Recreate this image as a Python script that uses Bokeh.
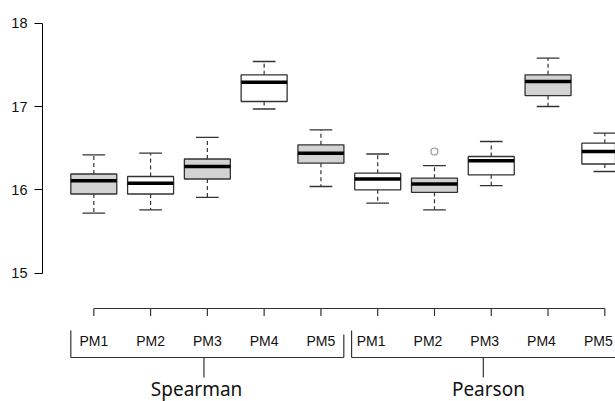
import numpy as np
from bokeh.plotting import figure
from bokeh.models import Range1d, FixedTicker, ColumnDataSource
from bokeh.core.properties import value
from bokeh.embed import file_html
from bokeh.resources import INLINE

# ---- data ----
groups = ["Spearman", "Pearson"]
methods = ["PM1", "PM2", "PM3", "PM4", "PM5"]
positions = [1, 2, 3, 4, 5, 6, 7, 8, 9, 10]
tick_labels = methods + methods
lower_whisker = [15.72, 15.76, 15.91, 16.97, 16.04, 15.84, 15.76, 16.05, 17.00, 16.22]
q1 = [15.95, 15.95, 16.13, 17.06, 16.32, 16.00, 15.97, 16.18, 17.13, 16.31]
median = [16.11, 16.08, 16.28, 17.29, 16.44, 16.13, 16.07, 16.35, 17.30, 16.46]
q3 = [16.19, 16.16, 16.37, 17.38, 16.54, 16.20, 16.14, 16.40, 17.38, 16.56]
upper_whisker = [16.42, 16.44, 16.63, 17.54, 16.72, 16.43, 16.29, 16.58, 17.58, 16.68]
outlier_x = [7]
outlier_y = [16.46]
y_ticks = [15, 16, 17, 18]

# ---- layout ----
W, H = 615, 401
Y0, Y1 = 13.460, 18.272
X0, X1 = 0.0965, 10.188
BOXW = 0.81
CAPW = 0.40
LABEL_NUDGE = [0.0] * 5 + [-0.115] * 5


def py(pix):
    """figure pixel row -> data y"""
    return Y1 - pix * (Y1 - Y0) / H


fills = ["#D3D3D3" if i % 2 == 0 else "#FFFFFF" for i in range(len(positions))]

p = figure(width=W, height=H, output_backend="svg", toolbar_location=None,
           x_range=Range1d(X0, X1), y_range=Range1d(Y0, Y1),
           min_border_left=42, min_border_right=0, min_border_top=0, min_border_bottom=0)
p.xaxis.visible = False
p.grid.visible = False
p.outline_line_color = None
p.background_fill_color = "white"
p.border_fill_color = "white"

ya = p.yaxis[0]
ya.ticker = FixedTicker(ticks=y_ticks)
ya.bounds = (15, 18)
ya.major_tick_out = 8
ya.major_tick_in = 0
ya.minor_tick_out = 0
ya.minor_tick_in = 0
ya.axis_line_color = "black"
ya.major_tick_line_color = "black"
ya.major_label_standoff = 7
ya.major_label_text_font = "Liberation Sans"
ya.major_label_text_font_size = "14.5px"
ya.major_label_text_color = "#111111"

pos = np.array(positions, dtype=float)
src = ColumnDataSource(dict(x=pos, lw=lower_whisker, q1=q1, med=median, q3=q3,
                            uw=upper_whisker, fill=fills,
                            x0=pos - BOXW / 2, x1=pos + BOXW / 2,
                            c0=pos - CAPW / 2, c1=pos + CAPW / 2))

# whiskers
p.segment(x0="x", y0="q3", x1="x", y1="uw", source=src, line_color="#333333",
          line_width=1.2, line_dash="4 3")
p.segment(x0="x", y0="q1", x1="x", y1="lw", source=src, line_color="#333333",
          line_width=1.2, line_dash="4 3")
# caps
p.segment(x0="c0", y0="uw", x1="c1", y1="uw", source=src, line_color="#333333", line_width=1.3)
p.segment(x0="c0", y0="lw", x1="c1", y1="lw", source=src, line_color="#333333", line_width=1.3)
# boxes
p.vbar(x="x", bottom="q1", top="q3", width=BOXW, source=src, fill_color="fill",
       line_color="#333333", line_width=1.3)
# medians
p.segment(x0="x0", y0="med", x1="x1", y1="med", source=src, line_color="black", line_width=3.5)
# outliers
p.scatter(x=outlier_x, y=outlier_y, marker="circle", size=7, fill_color=None,
          line_color="#999999", line_width=1.2)

# x axis (R style) drawn in data space
ax_y = py(308)
tick_y = py(315.5)
p.segment(x0=[positions[0]], y0=[ax_y], x1=[positions[-1]], y1=[ax_y], line_color="#333333", line_width=1.2)
p.segment(x0=positions, y0=[ax_y] * len(positions), x1=positions, y1=[tick_y] * len(positions),
          line_color="#333333", line_width=1.2)
label_pos = [x + d for x, d in zip(positions, LABEL_NUDGE)]
p.text(x=label_pos, y=[py(340)] * len(positions), text=tick_labels, text_align="center",
       text_baseline="middle", text_font=value("Liberation Sans"), text_font_size="14px",
       text_color="#111111")

# group brackets
br_y = py(357)
left_ends = [positions[0] - 0.405, positions[5] - 0.46]
right_ends = [positions[4] + 0.403, positions[9] + 0.46]
left_tops = [py(330), py(330)]
right_tops = [py(334), py(330)]
centers = [2.94, 7.86]
label_x = [2.81, 7.95]
p.segment(x0=left_ends, y0=[br_y, br_y], x1=right_ends, y1=[br_y, br_y], line_color="#333333", line_width=1.2)
p.segment(x0=left_ends, y0=[br_y, br_y], x1=left_ends, y1=left_tops, line_color="#333333", line_width=1.2)
p.segment(x0=right_ends, y0=[br_y, br_y], x1=right_ends, y1=right_tops, line_color="#333333", line_width=1.2)
p.segment(x0=centers, y0=[br_y, br_y], x1=centers, y1=[py(377), py(377)], line_color="#333333", line_width=1.2)
p.text(x=label_x, y=[py(388), py(388)], text=groups, text_align="center",
       text_baseline="alphabetic", text_font=value("Noto Sans"), text_font_size="19px",
       text_color="#111111")

open("out.html", "w").write(file_html(p, INLINE))
